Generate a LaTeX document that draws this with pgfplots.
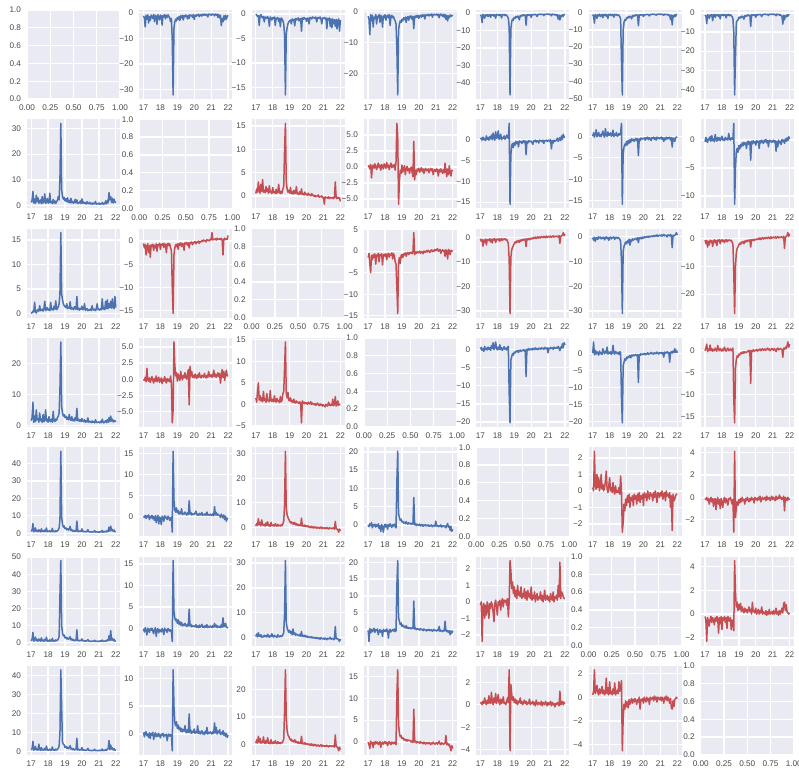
\documentclass[border=0pt]{standalone}
\usepackage{pgfplots}
\usepackage{pgfplotstable}
\pgfplotsset{compat=1.18}
\usepackage{fontspec}
\setmainfont{Liberation Sans}
\definecolor{sbblue}{HTML}{4C72B0}
\definecolor{sbred}{HTML}{C44E52}
\definecolor{sbbg}{HTML}{EAEAF2}
\definecolor{lab}{HTML}{4A4A4A}

\pgfplotstableread[header=false,row sep=\\]{
x 17.00 17.05 17.10 17.15 17.20 17.25 17.30 17.35 17.40 17.45
17.50 17.55 17.60 17.65 17.70 17.75 17.80 17.85 17.90 17.95
18.00 18.05 18.10 18.15 18.20 18.25 18.30 18.35 18.40 18.45
18.50 18.55 18.60 18.65 18.70 18.75 18.80 18.85 18.90 18.95
19.00 19.05 19.10 19.15 19.20 19.25 19.30 19.35 19.40 19.45
19.50 19.55 19.60 19.65 19.70 19.75 19.80 19.85 19.90 19.95
20.00 20.05 20.10 20.15 20.20 20.25 20.30 20.35 20.40 20.45
20.50 20.55 20.60 20.65 20.70 20.75 20.80 20.85 20.90 20.95
21.00 21.05 21.10 21.15 21.20 21.25 21.30 21.35 21.40 21.45
21.50 21.55 21.60 21.65 21.70 21.75 21.80 21.85 21.90 21.95
22.00\\
a10 1.2 2.0 5.5 1.0 2.5 0.8 4.0 1.5 3.0 0.9
1.6 2.2 0.7 3.5 1.0 1.4 4.5 0.8 1.5 2.8
0.9 1.3 4.8 1.1 1.6 0.7 2.4 1.0 1.8 0.8
1.5 2.0 3.5 2.2 11.0 32.0 6.0 3.5 2.5 3.2
1.8 2.6 1.5 3.0 1.2 2.0 1.0 2.8 1.1 1.6
0.9 1.3 2.4 1.0 2.2 0.8 1.2 1.0 1.8 0.7
2.6 0.9 1.4 0.8 1.1 0.6 1.5 0.8 0.7 1.3
0.6 0.9 0.5 1.0 0.6 0.8 1.6 0.5 0.7 0.6
1.0 0.5 0.8 0.6 1.2 0.5 0.9 0.6 1.8 0.7
2.0 1.0 5.0 2.2 3.5 1.2 2.8 1.0 2.5 1.5
1.0\\
a20 0.0 0.2 0.5 0.3 2.3 0.4 0.1 0.6 0.8 0.5
1.6 0.6 0.7 0.9 0.5 1.0 2.5 0.6 0.8 1.2
0.7 0.9 0.6 2.3 0.8 1.0 0.7 1.5 0.9 2.6
0.8 1.0 1.4 2.0 4.2 16.5 4.0 2.8 2.0 1.6
1.4 1.2 2.0 1.0 1.3 1.1 2.4 0.9 1.2 1.0
0.8 1.4 1.0 0.9 3.5 0.8 1.1 0.7 1.0 0.9
1.5 0.8 0.9 2.0 0.7 0.8 1.0 0.6 0.8 0.7
0.9 0.6 1.6 0.8 0.7 0.9 0.6 1.0 2.0 0.8
0.9 0.7 1.0 0.8 3.0 0.9 1.2 0.8 2.5 1.0
2.8 1.0 2.0 1.2 2.5 1.1 3.0 1.3 1.0 3.5
1.2\\
a21 -0.5 -1.5 -0.8 -3.0 -1.2 -0.6 -2.5 -1.0 -3.5 -0.8
-1.2 -0.7 -2.0 -0.9 -1.5 -0.6 -2.2 -0.8 -1.0 -0.5
-1.8 -0.7 -0.9 -0.5 -1.4 -0.6 -0.8 -2.5 -0.7 -0.5
-1.0 -0.6 -1.5 -2.0 -10.0 -15.6 -3.0 -1.5 -0.8 -1.2
-0.6 -1.8 -0.5 -0.9 -0.4 -1.2 -0.5 -0.7 -2.0 -0.4
-0.6 -0.3 -0.9 -0.4 -1.5 -0.3 -0.5 -0.2 -0.8 -0.3
-0.4 -0.1 -0.6 -0.2 -0.3 0.0 -0.5 -0.1 -0.2 0.1
-0.1 0.2 0.0 0.1 -0.2 0.3 0.1 0.2 0.0 0.4
0.3 1.8 0.2 0.4 0.3 0.5 0.2 0.6 0.3 0.4
0.5 0.3 0.6 0.2 -3.0 0.4 0.6 0.3 0.5 0.4
1.2\\
a30 1.5 2.5 7.5 1.0 3.0 1.2 5.0 1.8 2.2 1.0
4.0 1.5 2.0 1.0 3.5 1.2 1.8 5.0 1.4 2.0
1.0 2.8 1.5 1.2 2.0 1.0 4.5 1.5 1.2 2.0
1.6 2.5 3.0 4.0 12.0 27.0 6.0 4.0 3.0 3.5
2.5 3.0 2.0 2.6 1.8 3.5 2.0 1.6 2.8 1.5
2.0 1.4 2.5 1.6 5.5 1.5 2.0 1.3 1.8 1.2
2.2 1.4 1.2 1.8 1.0 1.5 1.1 2.4 1.0 1.3
1.2 0.9 1.4 1.0 1.2 0.8 1.8 1.0 0.9 1.1
1.0 0.8 1.3 0.9 2.0 1.0 0.8 1.2 1.5 0.9
1.8 1.0 2.5 1.2 3.0 1.4 2.0 1.1 1.6 1.2
1.5\\
a31 0.0 0.2 -0.3 0.4 -1.7 0.1 0.3 -0.2 0.5 0.0
-0.4 0.2 0.6 -0.1 0.3 -0.5 0.4 0.1 -0.3 0.5
0.2 -0.2 0.7 0.0 0.3 -0.4 0.2 0.6 -0.1 0.3
0.0 0.4 -0.5 0.8 6.8 4.8 -5.8 -2.2 -0.5 -1.0
0.3 -0.8 -0.2 0.2 -1.2 -0.3 0.1 -0.6 -0.2 -1.0
-0.3 0.0 -0.8 -1.5 4.0 -2.0 -0.5 -1.2 -0.3 -0.6
-0.2 -0.8 -0.4 -0.1 -0.7 -0.3 -1.0 -0.4 -0.2 -0.6
-0.5 -0.3 -0.9 -0.4 -0.2 -0.6 -0.3 -1.2 -0.5 -0.4
-0.7 -0.3 -0.5 -1.4 -0.4 -0.8 -0.3 -0.6 -1.0 -0.4
-0.9 0.6 -0.5 -1.5 -0.3 -1.2 0.2 -0.8 -1.4 -0.5
-0.6\\
a32 -1.5 -0.5 -3.0 -5.0 -1.0 -2.0 -0.8 -1.5 -0.6 -3.0
-0.9 -1.2 -0.5 -2.5 -0.8 -1.0 -0.6 -3.2 -0.9 -0.7
-1.2 -0.6 -2.0 -0.8 -0.5 -1.4 -0.7 -0.9 -0.4 -1.8
-0.6 -1.0 -2.5 -3.0 -8.5 -14.5 -2.5 -1.5 -2.8 -1.0
-0.8 -1.5 -0.6 -0.9 -0.4 -1.2 -0.5 -0.3 -0.8 -0.4
-0.5 -0.2 -0.6 -0.3 4.3 -0.8 -0.2 -0.5 -0.1 -0.4
-0.3 0.0 -0.5 -0.2 -0.1 -0.6 0.0 -0.3 -0.1 0.1
-0.2 0.2 0.0 -0.3 0.1 0.3 -0.1 0.2 0.0 0.4
0.1 0.3 0.6 0.0 0.2 0.4 -0.5 0.1 0.3 0.0
0.2 -1.2 0.3 0.0 -1.8 0.4 0.1 -0.8 0.2 0.0
0.1\\
a40 1.0 1.8 5.5 0.8 1.5 3.0 1.0 1.6 0.9 2.0
1.2 0.8 2.5 1.0 1.4 0.9 1.8 1.0 3.0 0.8
1.2 0.9 1.5 0.8 1.0 2.8 0.9 1.2 0.8 1.5
1.0 1.4 2.0 3.0 8.0 47.0 9.0 5.0 3.5 4.2
2.5 3.0 2.0 2.6 1.8 2.2 4.0 1.5 2.0 1.2
1.6 1.0 1.4 1.2 7.0 1.0 1.4 0.9 1.2 1.0
2.5 0.9 1.2 0.8 1.0 0.7 1.1 2.0 0.8 0.9
0.7 0.6 0.9 0.7 0.8 1.5 0.6 0.8 0.7 0.6
0.8 0.6 1.0 0.7 1.6 0.6 0.9 0.7 1.2 0.8
1.5 1.0 3.5 1.2 4.0 1.5 2.2 1.0 1.8 0.8
1.0\\
a41 0.0 -0.3 0.2 -0.5 0.1 -0.2 0.3 -0.8 0.0 -0.4
0.2 -0.6 -0.1 -1.0 0.1 -1.5 -0.3 0.2 -1.8 -0.2
-0.5 -2.0 0.0 -0.3 -1.2 0.1 -0.4 -0.2 -0.8 0.0
-0.3 -1.0 -0.5 -0.2 -3.8 15.5 3.7 1.5 1.0 2.0
0.8 1.4 0.5 1.0 0.6 1.8 0.4 0.7 0.5 1.0
0.6 0.3 0.8 0.4 3.7 0.5 0.9 0.3 0.6 0.4
0.5 0.8 1.2 0.3 0.5 0.2 0.7 0.3 0.4 0.9
0.2 0.4 0.3 0.6 0.2 1.0 0.3 0.4 0.2 0.5
0.3 0.2 0.6 0.1 2.3 0.3 0.9 0.2 0.5 0.3
0.2 -0.3 0.5 0.1 -0.4 0.3 -0.8 0.0 -1.2 -0.5
-0.6\\
a42 0.5 1.5 0.8 3.5 1.0 2.0 0.6 3.0 1.0 0.8
1.2 0.5 1.8 0.7 2.2 0.6 1.0 0.4 2.0 0.8
0.6 1.0 0.5 1.5 0.7 0.4 1.2 0.6 0.8 0.5
1.0 0.7 1.5 2.5 9.0 31.0 8.0 5.0 4.0 3.2
2.5 1.8 2.2 1.4 1.8 1.2 2.0 1.0 1.5 0.8
1.2 0.7 1.0 0.6 3.7 0.5 0.8 0.4 0.9 0.3
0.6 0.2 0.5 0.0 0.3 -0.2 0.4 0.0 -0.3 0.2
-0.2 0.1 -0.4 -0.1 0.0 -0.5 -0.2 0.1 -0.6 -0.1
-0.3 -0.5 -0.2 -0.6 -0.1 -0.4 -0.7 -0.2 -0.5 -0.3
-0.6 -0.4 -0.2 -0.8 2.4 -0.5 -0.7 -1.0 -2.0 -0.8
-1.5\\
a43 0.0 -0.5 0.3 -0.2 0.6 -0.8 0.1 -0.3 0.2 -0.6
0.0 -0.4 0.3 -1.0 -0.2 -1.8 0.1 -0.5 -2.0 -0.3
0.2 -0.6 0.0 -1.2 0.1 -0.4 0.3 -0.2 -0.7 0.0
-0.3 0.2 -0.5 -0.8 12.0 20.2 3.0 2.0 1.2 1.6
0.8 1.0 0.5 0.7 0.3 0.9 0.4 0.2 0.6 0.3
0.4 0.1 0.5 0.2 7.5 0.0 0.3 -0.2 0.2 0.0
-0.1 0.2 -0.3 0.0 0.1 -0.4 0.0 -0.2 0.1 -0.3
-0.2 0.0 -0.4 -0.1 -0.3 0.0 -0.5 -0.2 -0.1 -0.4
1.0 -0.3 -0.1 -0.5 -0.2 -0.4 0.0 -0.6 -0.3 -0.2
-0.5 -0.3 -0.8 -0.2 0.4 -0.6 -0.3 -1.5 -0.4 -1.8
-1.2\\
a50 1.0 2.0 6.0 0.9 1.6 3.2 1.1 1.8 0.8 2.2
1.4 0.9 2.8 1.0 1.5 0.8 2.0 1.1 3.2 0.9
1.3 0.8 1.7 0.9 1.1 2.5 0.8 1.3 0.9 1.6
1.1 1.5 2.2 3.5 28.0 48.0 10.0 5.5 4.0 4.5
2.8 3.2 2.2 2.8 2.0 2.4 3.5 1.6 2.2 1.4
1.8 1.1 1.5 1.3 7.5 1.1 1.5 1.0 1.3 1.1
2.2 1.0 1.3 0.9 1.1 0.8 1.2 1.8 0.9 1.0
0.8 0.7 1.0 0.8 0.9 1.4 0.7 0.9 0.8 0.7
0.9 0.7 1.1 0.8 1.5 0.7 1.0 0.8 1.3 0.9
1.6 1.2 4.0 1.3 7.0 1.5 2.5 1.1 2.0 0.9
1.0\\
a51 0.0 -0.8 0.2 -0.5 -1.5 0.1 -0.3 -0.9 0.0 -0.4
0.1 -0.6 -1.2 -0.2 0.2 -1.8 -0.3 0.0 -1.0 -0.2
-0.4 -0.8 0.0 -0.3 -1.4 0.1 -0.5 -0.2 -0.9 0.0
-0.2 -0.6 -0.3 -0.8 -3.0 15.8 4.0 2.5 1.8 2.2
1.2 2.0 1.0 1.6 0.8 1.4 0.6 1.0 0.7 1.2
0.8 0.5 1.0 0.6 4.5 0.6 1.0 0.4 0.7 0.5
0.6 0.4 0.9 0.3 0.6 0.2 0.8 0.3 0.5 1.0
0.3 0.5 0.2 0.7 0.3 0.9 0.2 0.5 0.3 0.6
0.4 0.2 0.7 0.3 1.2 0.4 0.8 0.2 0.6 0.3
0.5 0.2 0.9 0.3 2.5 0.4 0.6 1.2 0.3 0.2
0.3\\
a52 0.5 1.5 0.3 2.0 0.8 0.4 1.2 0.2 0.6 0.3
1.0 0.4 0.8 0.3 1.4 0.5 0.2 0.9 0.4 1.6
0.5 0.3 1.0 0.4 0.6 0.2 1.2 0.5 0.3 0.8
0.4 0.7 1.2 2.0 10.0 31.0 6.0 4.0 3.0 2.2
3.0 1.8 2.5 1.2 3.5 1.4 2.0 1.0 1.5 1.2
1.0 0.8 1.4 0.6 2.5 0.5 0.9 0.4 1.0 0.3
0.7 0.2 0.5 0.1 0.3 0.0 0.4 -0.1 0.2 0.0
-0.2 0.1 -0.3 0.0 -0.4 -0.1 -0.6 0.0 -0.3 -0.5
-0.2 -0.6 -0.1 -0.4 -0.8 -0.2 -0.5 -0.3 0.2 -0.6
-0.4 -0.2 -0.8 -0.3 4.5 -0.5 -0.2 -0.4 -0.8 -1.5
-0.5\\
a53 -0.2 -3.5 0.3 -1.0 0.1 -0.6 -0.2 0.4 -0.8 0.0
-0.3 0.2 -1.5 -0.4 0.0 -0.8 -0.2 -2.0 0.1 -0.5
-0.1 -0.6 0.2 -0.3 -2.5 -0.2 0.1 -0.7 -0.3 0.0
-0.4 0.2 -0.6 -0.3 13.0 20.5 3.5 2.5 1.5 2.0
1.0 1.4 0.8 1.0 0.5 1.2 0.4 0.7 0.3 0.6
0.4 0.2 0.6 0.3 8.5 0.2 0.5 0.0 0.3 0.1
0.2 -0.1 0.3 0.0 0.1 -0.3 0.2 -0.1 0.0 -0.4
0.0 -0.2 0.1 -0.3 -0.1 0.0 -0.5 -0.2 0.1 -0.3
-0.2 -0.4 0.0 -0.3 1.0 -0.5 -0.1 -0.3 -0.6 -0.2
-0.4 2.5 -0.3 -0.6 -0.2 -0.8 -0.3 -1.5 -0.4 -1.0
-0.3\\
a54 -0.2 0.0 -2.4 -0.3 -0.1 -1.0 -0.2 -0.8 0.0 -0.3
-1.0 -0.1 -0.4 0.0 -0.2 -0.6 -1.2 -0.1 0.1 -0.3
-0.8 0.0 -0.2 0.1 -0.5 0.0 0.2 -0.3 0.1 0.0
0.1 -0.2 0.2 -0.9 0.0 2.5 1.9 0.8 1.2 0.5
0.9 0.3 0.7 0.2 1.0 0.4 0.6 0.3 0.9 0.2
0.5 0.3 0.8 0.2 0.6 0.1 0.7 0.3 0.5 0.2
0.9 0.1 0.4 0.2 0.6 0.0 0.3 0.5 0.1 0.3
0.2 0.6 0.1 0.4 0.0 0.3 0.7 0.1 0.2 0.4
0.1 0.3 0.0 0.5 0.2 0.1 0.6 0.0 0.3 0.2
0.4 0.1 1.0 0.3 2.4 0.2 0.6 0.5 0.3 0.2
0.2\\
a60 1.0 1.6 5.5 0.8 1.4 2.8 0.9 1.5 0.8 4.0
1.1 0.7 2.2 0.9 1.3 0.8 1.7 0.9 3.0 0.8
1.1 0.8 1.4 0.7 0.9 2.5 0.8 1.1 0.7 1.4
0.9 1.3 1.8 3.0 10.0 43.0 23.0 5.0 4.0 3.6
2.2 2.8 1.8 2.4 1.6 2.0 3.2 1.4 1.8 1.1
1.5 0.9 1.3 1.1 7.0 0.9 1.3 0.8 1.1 0.9
2.2 0.8 1.1 0.7 0.9 0.6 1.0 1.8 0.7 0.8
0.6 0.5 0.8 0.6 0.7 1.3 0.5 0.7 0.6 0.5
0.7 0.5 0.9 0.6 1.4 0.5 0.8 0.6 1.1 0.7
1.4 1.6 5.8 1.1 3.5 1.4 2.0 0.9 1.6 0.8
0.9\\
a61 0.3 -0.5 0.2 0.4 -0.3 0.0 -0.6 0.2 -0.8 0.1
-0.2 0.3 -1.0 -0.1 0.2 -0.5 0.0 -0.4 0.1 -0.3
-0.7 0.0 -0.2 0.1 -0.5 -0.1 -0.3 0.0 -1.2 -0.2
0.0 -0.4 -0.1 -0.2 -3.0 11.5 5.0 2.0 1.5 2.2
1.0 1.6 0.8 1.2 0.5 1.0 0.4 0.8 0.5 1.5
0.4 0.2 0.8 0.3 3.6 0.2 0.7 0.1 0.5 0.3
0.9 0.1 0.4 0.2 1.5 0.1 0.5 0.0 0.3 0.6
0.0 0.3 -0.1 0.5 0.1 1.2 0.0 0.3 0.1 0.4
0.2 0.0 0.4 0.1 2.0 0.2 1.2 0.0 0.5 0.2
0.8 -0.1 0.3 0.0 0.6 -0.2 0.2 -0.4 0.1 -0.6
-0.2\\
a62 0.5 1.8 0.6 3.0 0.9 2.2 0.5 1.2 0.7 2.8
0.8 0.4 1.5 0.6 2.5 0.5 0.9 0.3 1.8 0.6
0.4 1.0 0.5 1.4 0.6 0.3 1.1 0.5 0.7 0.4
0.8 0.6 1.2 2.0 12.0 27.0 10.0 5.0 3.5 3.0
2.2 1.6 2.0 1.2 1.5 1.0 1.8 0.8 1.2 0.6
1.0 0.5 0.8 0.4 3.0 0.3 0.6 0.2 0.7 0.2
0.4 0.1 0.3 -0.1 0.2 -0.3 0.3 -0.1 -0.4 0.1
-0.3 0.0 -0.5 -0.2 -0.1 -0.6 -0.3 0.0 -0.7 -0.2
-0.4 -0.6 -0.3 -0.7 -0.2 -0.5 -0.8 -0.3 -0.6 -0.4
-0.7 -0.5 -0.3 -0.9 3.5 -0.6 -0.8 -1.2 -2.2 -0.9
-1.8\\
a63 0.0 -0.6 -1.5 0.2 -0.4 -0.1 -1.3 0.0 -0.5 0.1
-0.3 0.0 -0.6 -0.2 0.1 -1.2 -0.3 0.0 -0.5 -0.1
0.1 -0.4 0.0 -0.8 -0.2 0.1 -0.3 -0.6 0.0 -0.2
-0.4 0.0 -0.3 -0.6 11.0 16.5 4.0 2.0 1.2 1.5
0.8 1.0 0.5 0.7 0.3 0.6 0.2 0.5 0.3 0.4
0.2 0.0 0.3 -0.1 7.5 0.0 0.2 -0.2 0.1 -0.1
0.0 -0.3 0.1 -0.2 -0.1 -0.4 0.0 -0.2 -0.5 -0.1
-0.2 -0.4 -0.1 -0.3 -0.6 -0.2 -0.4 0.0 -0.3 -0.5
-0.3 -0.1 -0.5 -0.2 0.2 -0.4 -0.6 -0.2 -0.3 -0.5
-0.4 -0.2 1.5 -0.6 -0.3 -0.8 -0.5 -1.2 -2.0 -0.8
-1.5\\
a64 0.1 0.2 0.0 0.3 0.1 0.6 0.2 0.0 0.4 0.1
0.8 0.2 0.1 1.1 0.3 0.0 0.6 0.2 1.0 0.1
0.4 0.9 0.2 0.0 0.5 0.1 0.3 0.7 0.1 0.2
0.0 0.3 0.6 0.2 3.1 -4.1 1.8 0.9 0.4 0.7
0.2 0.5 0.1 0.4 0.0 0.3 0.2 0.6 0.1 0.3
0.0 0.2 0.4 0.1 0.3 0.0 0.2 0.1 0.5 0.0
0.2 0.1 0.3 0.0 0.2 -0.1 0.4 0.1 0.0 0.2
0.1 0.0 0.3 -0.1 0.2 0.1 0.0 0.3 0.1 -0.1
0.2 0.0 0.1 0.3 -0.1 0.2 0.0 0.1 -0.2 0.1
0.0 0.2 0.1 -0.1 1.2 0.0 0.1 0.3 0.0 0.2
0.1\\
a65 0.2 0.5 2.3 0.3 0.6 1.0 0.4 0.2 0.7 0.3
0.5 0.9 0.3 0.6 0.2 0.4 1.6 0.3 0.8 0.2
1.3 0.3 0.5 0.2 0.7 0.3 1.2 0.2 0.4 0.6
0.3 1.3 0.5 0.8 1.4 -4.5 -1.8 -0.6 -1.0 -0.3
-0.8 -0.4 -0.9 -0.2 -0.6 -0.3 -0.1 -0.5 -0.2 -0.4
-0.1 -0.3 -0.6 -0.2 -0.4 0.0 -1.0 -0.2 -0.3 -0.1
-0.5 0.0 -0.2 -0.4 0.0 -0.3 -0.1 -0.6 0.0 -0.2
-0.1 0.0 -0.3 0.1 -0.2 0.0 -0.4 0.0 -0.1 -0.2
0.0 -0.3 0.0 -0.1 -0.5 0.0 -0.2 0.1 -0.3 0.0
-0.2 -0.5 -0.1 -0.9 -1.0 -0.3 -0.8 -0.2 -0.1 0.0
-0.1\\
}\raw
\pgfplotstabletranspose[colnames from=0]{\data}{\raw}

\pgfplotsset{
  base/.style={scale only axis, width=93pt, height=89pt, anchor=north west,
    axis background/.style={fill=sbbg}, axis line style={draw=none},
    major tick length=0pt, grid=major,
    major grid style={white, line width=1.3pt},
    tick label style={font=\fontsize{8.2}{9}\selectfont, text=lab},
    xticklabel style={yshift=-2.5pt}, yticklabel style={xshift=-2.5pt}},
  ts/.style={base, xmin=16.75, xmax=22.25, xtick={17,18,19,20,21,22},
    xticklabels={17,18,19,20,21,22}, enlarge y limits=0.05},
}

% row, col, column, sign, colour, yticks, yticklabels
\newcommand\tsp[7]{%
\begin{axis}[ts, at={({27pt+112.3pt*#2},{-10pt-109.3pt*#1})}, ytick={#6}, yticklabels={#7}]
\addplot[#5, mark=none, line width=1.5pt, line join=round] table[x=x, y expr={#4*\thisrow{#3}}] {\data};
\end{axis}}

\newcommand\emp[1]{%
\begin{axis}[base, at={({27pt+112.3pt*#1},{-10pt-109.3pt*#1})},
  xmin=0, xmax=1, ymin=0, ymax=1,
  xtick={0,0.25,0.5,0.75,1}, xticklabels={0.00,0.25,0.50,0.75,1.00},
  ytick={0,0.2,0.4,0.6,0.8,1}, yticklabels={0.0,0.2,0.4,0.6,0.8,1.0}]
\end{axis}}

\begin{document}
\begin{tikzpicture}
\useasboundingbox (0pt,0pt) rectangle (799pt,-774pt);
\emp{0}\emp{1}\emp{2}\emp{3}\emp{4}\emp{5}\emp{6}
\tsp{0}{1}{a10}{-1}{sbblue}{-30,-20,-10,0}{−30,−20,−10,0}
\tsp{0}{2}{a20}{-1}{sbblue}{-15,-10,-5,0}{−15,−10,−5,0}
\tsp{0}{3}{a30}{-1}{sbblue}{-20,-10,0}{−20,−10,0}
\tsp{0}{4}{a40}{-1}{sbblue}{-40,-30,-20,-10,0}{−40,−30,−20,−10,0}
\tsp{0}{5}{a50}{-1}{sbblue}{-50,-40,-30,-20,-10,0}{−50,−40,−30,−20,−10,0}
\tsp{0}{6}{a60}{-1}{sbblue}{-40,-30,-20,-10,0}{−40,−30,−20,−10,0}
\tsp{1}{0}{a10}{1}{sbblue}{0,10,20,30}{0,10,20,30}
\tsp{1}{2}{a21}{-1}{sbred}{0,5,10,15}{0,5,10,15}
\tsp{1}{3}{a31}{1}{sbred}{-5,-2.5,0,2.5,5}{−5.0,−2.5,0.0,2.5,5.0}
\tsp{1}{4}{a41}{-1}{sbblue}{-15,-10,-5,0}{−15,−10,−5,0}
\tsp{1}{5}{a51}{-1}{sbblue}{-15,-10,-5,0}{−15,−10,−5,0}
\tsp{1}{6}{a61}{-1}{sbblue}{-10,-5,0}{−10,−5,0}
\tsp{2}{0}{a20}{1}{sbblue}{0,5,10,15}{0,5,10,15}
\tsp{2}{1}{a21}{1}{sbred}{-15,-10,-5,0}{−15,−10,−5,0}
\tsp{2}{3}{a32}{1}{sbred}{-15,-10,-5,0,5}{−15,−10,−5,0,5}
\tsp{2}{4}{a42}{-1}{sbred}{-30,-20,-10,0}{−30,−20,−10,0}
\tsp{2}{5}{a52}{-1}{sbblue}{-30,-20,-10,0}{−30,−20,−10,0}
\tsp{2}{6}{a62}{-1}{sbred}{-20,-10,0}{−20,−10,0}
\tsp{3}{0}{a30}{1}{sbblue}{0,10,20}{0,10,20}
\tsp{3}{1}{a31}{-1}{sbred}{-5,-2.5,0,2.5,5}{−5.0,−2.5,0.0,2.5,5.0}
\tsp{3}{2}{a32}{-1}{sbred}{-5,0,5,10,15}{−5,0,5,10,15}
\tsp{3}{4}{a43}{-1}{sbblue}{-20,-15,-10,-5,0}{−20,−15,−10,−5,0}
\tsp{3}{5}{a53}{-1}{sbblue}{-20,-15,-10,-5,0}{−20,−15,−10,−5,0}
\tsp{3}{6}{a63}{-1}{sbred}{-15,-10,-5,0}{−15,−10,−5,0}
\tsp{4}{0}{a40}{1}{sbblue}{0,10,20,30,40}{0,10,20,30,40}
\tsp{4}{1}{a41}{1}{sbblue}{0,5,10,15}{0,5,10,15}
\tsp{4}{2}{a42}{1}{sbred}{0,10,20,30}{0,10,20,30}
\tsp{4}{3}{a43}{1}{sbblue}{0,5,10,15,20}{0,5,10,15,20}
\tsp{4}{5}{a54}{-1}{sbred}{-2,-1,0,1,2}{−2,−1,0,1,2}
\tsp{4}{6}{a64}{-1}{sbred}{-2,0,2,4}{−2,0,2,4}
\tsp{5}{0}{a50}{1}{sbblue}{0,10,20,30,40,50}{0,10,20,30,40,50}
\tsp{5}{1}{a51}{1}{sbblue}{0,5,10,15}{0,5,10,15}
\tsp{5}{2}{a52}{1}{sbblue}{0,10,20,30}{0,10,20,30}
\tsp{5}{3}{a53}{1}{sbblue}{0,5,10,15,20}{0,5,10,15,20}
\tsp{5}{4}{a54}{1}{sbred}{-2,-1,0,1,2}{−2,−1,0,1,2}
\tsp{5}{6}{a65}{-1}{sbred}{-2,0,2,4}{−2,0,2,4}
\tsp{6}{0}{a60}{1}{sbblue}{0,10,20,30,40}{0,10,20,30,40}
\tsp{6}{1}{a61}{1}{sbblue}{0,5,10}{0,5,10}
\tsp{6}{2}{a62}{1}{sbred}{0,10,20}{0,10,20}
\tsp{6}{3}{a63}{1}{sbred}{0,5,10,15}{0,5,10,15}
\tsp{6}{4}{a64}{1}{sbred}{-4,-2,0,2}{−4,−2,0,2}
\tsp{6}{5}{a65}{1}{sbred}{-4,-2,0,2}{−4,−2,0,2}
\end{tikzpicture}
\end{document}
